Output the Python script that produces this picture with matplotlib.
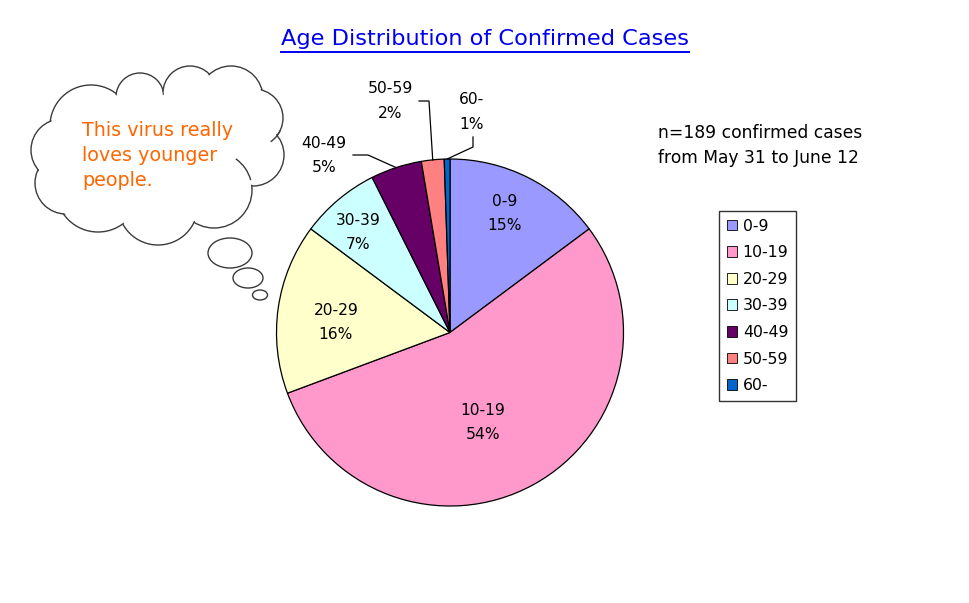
import matplotlib
matplotlib.use('Agg')
import matplotlib.pyplot as plt
from matplotlib.patches import Circle, Ellipse, Arc, Polygon
import numpy as np

categories = ['0-9', '10-19', '20-29', '30-39', '40-49', '50-59', '60-']
counts = [28, 103, 30, 14, 9, 4, 1]
colors = ['#9999FF', '#FF99CC', '#FFFFCC', '#CCFFFF', '#660066', '#FF8080', '#0066CC']
title = 'Age Distribution of Confirmed Cases'
note_lines = ['n=189 confirmed cases', 'from May 31 to June 12']
bubble_lines = ['This virus really', 'loves younger', 'people.']

W, H = 970, 603
plt.rcParams['font.family'] = ['DejaVu Sans']
fig = plt.figure(figsize=(9.7, 6.03), dpi=100)
ax = fig.add_axes([0, 0, 1, 1])


def Y(py):
    return H - py


total = sum(counts)
pct = [int(round(100 * c / total)) for c in counts]

cx, cy, R = 450, Y(332.5), 173.5
wedges, _ = ax.pie(counts, colors=colors, startangle=90, counterclock=False,
                   center=(cx, cy), radius=R,
                   wedgeprops=dict(edgecolor='black', linewidth=0.9))
ax.set_xlim(0, W)
ax.set_ylim(0, H)
ax.axis('off')

FS = 11.2
GAP = 24.5
# label centres (pixel positions of the two-line label blocks)
label_pos = [(505, 213.5), (483, 422.5), (336, 322.5), (358, 232.5),
             (324, 155.5), (390, 101), (472, 112)]
for i, (lx, ly) in enumerate(label_pos):
    ax.text(lx, Y(ly - GAP / 2), categories[i], ha='center', va='center',
            fontsize=FS, color='black')
    ax.text(lx, Y(ly + GAP / 2), f'{pct[i]}%', ha='center', va='center',
            fontsize=FS, color='black')

# leader lines for small slices: bend points, ending at wedge edge midpoint
leaders = {
    4: [(353, 155), (368, 155)],
    5: [(419, 101), (429, 101)],
    6: [(473, 137), (473, 147)],
}
for i, pts in leaders.items():
    w = wedges[i]
    th = np.deg2rad((w.theta1 + w.theta2) / 2)
    ex, ey = cx + R * np.cos(th), cy + R * np.sin(th)
    xs = [p[0] for p in pts] + [ex]
    ys = [Y(p[1]) for p in pts] + [ey]
    ax.plot(xs, ys, color='black', lw=0.9, zorder=3)

# legend
leg = ax.legend(wedges, categories, loc='upper left',
                bbox_to_anchor=(719 / W, 1 - 211 / H), bbox_transform=fig.transFigure,
                frameon=True, fancybox=False, edgecolor='black', fontsize=11.3,
                handlelength=0.68, handleheight=0.68, handletextpad=0.35,
                labelspacing=0.74, borderpad=0.48, borderaxespad=0)
leg.get_frame().set_linewidth(1.0)
for h in leg.legend_handles:
    h.set_linewidth(0.6)

# title
t = ax.text(485, Y(39), title, ha='center', va='center', fontsize=16.2,
            color='#0000F0')

# note
ax.text(658, Y(133), note_lines[0], ha='left', va='center', fontsize=12.3)
ax.text(658, Y(158), note_lines[1], ha='left', va='center', fontsize=12.3)

# thought cloud
circles = [(91, 126, 41), (140, 97, 24), (190, 93, 27), (231, 98, 32),
           (254, 118, 29), (253, 155, 31), (214, 190, 38), (158, 205, 40),
           (98, 190, 42), (66, 183, 31), (62, 150, 31)]
EC = '#3a3a3a'
for (x, y, r) in circles:
    ax.add_patch(Circle((x, Y(y)), r, facecolor='white', edgecolor=EC,
                        lw=1.0, zorder=5))
for (x, y, r) in circles:
    ax.add_patch(Circle((x, Y(y)), r - 1.2, facecolor='white', edgecolor='none',
                        zorder=6))
ax.add_patch(Polygon([(x, Y(y)) for (x, y, r) in circles], closed=True,
                     facecolor='white', edgecolor='none', zorder=6))
ax.add_patch(Ellipse((160, Y(155)), 190, 110, facecolor='white', edgecolor='none',
                     zorder=6))
# inner stub arcs typical of the cloud shape
for (ci, a1, a2) in [(6, 15, 55), (4, -55, -25)]:
    x, y, r = circles[ci]
    ax.add_patch(Arc((x, Y(y)), 2 * r, 2 * r, theta1=a1, theta2=a2,
                     edgecolor=EC, lw=1.0, zorder=6.5))
for (x, y, w_, h_) in [(230, 253, 44, 30), (248, 278, 30, 20), (260, 295, 15, 10)]:
    ax.add_patch(Ellipse((x, Y(y)), w_, h_, facecolor='white', edgecolor=EC,
                         lw=1.0, zorder=5))
for k, line in enumerate(bubble_lines):
    ax.text(82, Y(130 + 25 * k), line, ha='left', va='center', fontsize=13.8,
            color='#FF6600', zorder=7)

# underline the title
fig.canvas.draw()
bb = t.get_window_extent(fig.canvas.get_renderer())
inv = ax.transData.inverted()
(x0, y0), (x1, y1) = inv.transform([(bb.x0, bb.y0), (bb.x1, bb.y1)])
ax.plot([x0, x1], [Y(52), Y(52)], color='#0000F0', lw=1.4)

fig.savefig('out.png', dpi=100, facecolor='white')
